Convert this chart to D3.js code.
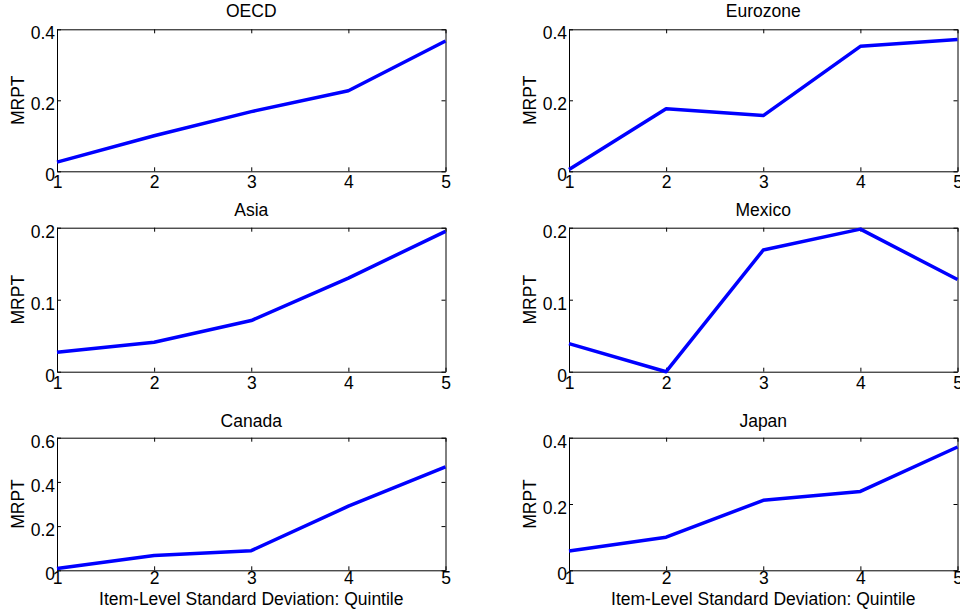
<!DOCTYPE html>
<html>
<head>
<meta charset="utf-8">
<script src="https://cdn.jsdelivr.net/npm/d3@7"></script>
<style>
  html, body { margin: 0; padding: 0; background: #fff; }
  svg { display: block; font-family: "Liberation Sans", Arial, sans-serif; }
  .domain { stroke: #000; }
  .tick line { stroke: #000; }
  .tick text { fill: #000; font-size: 17.5px; }
</style>
</head>
<body>
<div id="chart"></div>
<script>
// Quintiles on the x axis
const quintiles = [1, 2, 3, 4, 5];

// MRPT per region
const oecd     = [0.026, 0.100, 0.168, 0.227, 0.367];
const eurozone = [0.005, 0.176, 0.157, 0.352, 0.371];
const asia     = [0.027, 0.041, 0.071, 0.130, 0.195];
const mexico   = [0.039, 0.000, 0.169, 0.198, 0.128];
const canada   = [0.008, 0.067, 0.089, 0.290, 0.468];
const japan    = [0.058, 0.100, 0.211, 0.238, 0.372];

// y tick values for each panel
const ticksSmall = [0, 0.1, 0.2];
const ticksMid   = [0, 0.2, 0.4];
const ticksLarge = [0, 0.2, 0.4, 0.6];

const panelTitles = ["OECD", "Eurozone", "Asia", "Mexico", "Canada", "Japan"];
const panelValues = [oecd, eurozone, asia, mexico, canada, japan];
const panelTicks  = [ticksMid, ticksMid, ticksSmall, ticksSmall, ticksLarge, ticksMid];

const yLabel = "MRPT";
const xLabel = "Item-Level Standard Deviation: Quintile";

// Layout (pixel boxes of the six axes)
const W = 960, H = 613;
const colLeft = [57, 569];
const colWidth = 388.5;
const rowTop = [29.3, 227.7, 437.7];
const rowHeight = [142, 144, 132.6];
const rowTickPad = [4.5, 4.5, 1.5];
const titleOffset = [-12.5, -11.5, -11];

const svg = d3.select("#chart").append("svg")
  .attr("width", W)
  .attr("height", H);

const fmt = d => d === 0 ? "0" : d3.format(".1f")(d);

panelValues.forEach((values, i) => {
  const col = i % 2, row = Math.floor(i / 2);
  const w = colWidth, h = rowHeight[row];
  const ticks = panelTicks[i];

  const g = svg.append("g")
    .attr("transform", `translate(${colLeft[col]},${rowTop[row]})`);

  const x = d3.scaleLinear().domain([1, 5]).range([0, w]);
  const y = d3.scaleLinear().domain([0, d3.max(ticks)]).range([h, 0]);

  // box with inward ticks, MATLAB style
  g.append("g")
    .attr("transform", `translate(0,${h})`)
    .call(d3.axisBottom(x).tickValues(quintiles).tickFormat(d3.format("d"))
      .tickSizeInner(-4).tickSizeOuter(0).tickPadding(rowTickPad[row]));

  g.append("g")
    .call(d3.axisTop(x).tickValues(quintiles).tickFormat("")
      .tickSizeInner(-4).tickSizeOuter(0));

  g.append("g")
    .call(d3.axisLeft(y).tickValues(ticks).tickFormat(fmt)
      .tickSizeInner(-4).tickSizeOuter(0).tickPadding(2))
    .selectAll(".tick text")
    .attr("dy", "0.55em");

  g.append("g")
    .attr("transform", `translate(${w},0)`)
    .call(d3.axisRight(y).tickValues(ticks).tickFormat("")
      .tickSizeInner(-4).tickSizeOuter(0));

  // series line
  const line = d3.line()
    .x((d, k) => x(quintiles[k]))
    .y(d => y(d));

  g.append("path")
    .datum(values)
    .attr("fill", "none")
    .attr("stroke", "#0000ff")
    .attr("stroke-width", 3.5)
    .attr("stroke-linejoin", "round")
    .attr("d", line);

  // title
  g.append("text")
    .attr("x", w / 2)
    .attr("y", titleOffset[row])
    .attr("text-anchor", "middle")
    .style("font-size", "17.5px")
    .text(panelTitles[i]);

  // y label
  g.append("text")
    .attr("transform", `translate(-33,${h / 2}) rotate(-90)`)
    .attr("text-anchor", "middle")
    .style("font-size", "17.5px")
    .text(yLabel);

  // x label on the bottom row only
  if (row === 2) {
    g.append("text")
      .attr("x", w / 2)
      .attr("y", h + 35)
      .attr("text-anchor", "middle")
      .style("font-size", "17.5px")
      .text(xLabel);
  }
});
</script>
</body>
</html>
